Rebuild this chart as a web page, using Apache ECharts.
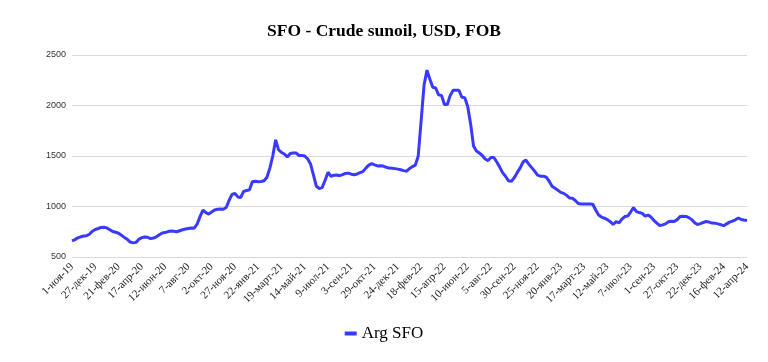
<!DOCTYPE html>
<html>
<head>
<meta charset="utf-8">
<script src="https://cdn.jsdelivr.net/npm/echarts@6/dist/echarts.min.js"></script>
<style>
html,body{margin:0;padding:0;background:#fff;}
#chart{width:768px;height:362px;}
</style>
</head>
<body>
<div id="chart"></div>
<script>
// Weekly observations starting 1 Nov 2019
const startDate = [2019, 10, 1];
const monthNames = ['янв','фев','март','апр','май','июн','июл','авг','сен','окт','ноя','дек'];
const seriesName = 'Arg SFO';
const argSFO = [
  660,672,690,700,708,711,725,755,772,782,
  793,795,788,770,752,745,735,715,694,675,
  648,640,645,675,692,698,695,682,688,700,
  720,738,742,752,757,755,750,760,770,777,
  782,787,785,825,900,965,940,925,945,965,
  972,975,972,990,1060,1120,1130,1095,1090,1150,
  1158,1165,1245,1250,1245,1248,1255,1290,1380,1500,
  1660,1560,1535,1520,1490,1525,1530,1530,1505,1505,
  1500,1470,1420,1310,1200,1178,1190,1260,1340,1298,
  1310,1312,1305,1315,1328,1330,1320,1315,1322,1335,
  1345,1380,1410,1424,1412,1402,1404,1400,1388,1380,
  1378,1375,1370,1364,1355,1350,1375,1395,1410,1500,
  1850,2200,2350,2260,2180,2173,2105,2100,2010,2010,
  2100,2150,2150,2150,2082,2078,1990,1820,1600,1550,
  1530,1505,1470,1455,1485,1485,1440,1390,1335,1300,
  1255,1249,1285,1335,1380,1440,1460,1420,1385,1350,
  1310,1300,1300,1290,1250,1200,1180,1160,1140,1130,
  1110,1085,1082,1060,1030,1025,1025,1025,1025,1022,
  965,915,895,885,870,850,822,850,838,875,
  900,905,945,990,950,940,932,905,915,895,
  862,835,812,818,828,848,853,852,870,900,
  903,902,890,870,840,822,830,842,852,845,
  836,835,828,820,810,828,845,855,868,886,
  872,866,862
];
const yTicks = [500, 1000, 1500, 2000, 2500];

const categories = [];
for (let i = 0; i < argSFO.length; i++) {
  const d = new Date(startDate[0], startDate[1], startDate[2] + 7 * i);
  categories.push(d.getDate() + '-' + monthNames[d.getMonth()] + '-' + String(d.getFullYear()).slice(2));
}

const chart = echarts.init(document.getElementById('chart'), null, {renderer: 'canvas'});
chart.setOption({
  animation: false,
  backgroundColor: '#ffffff',
  title: {
    text: 'SFO - Crude sunoil, USD, FOB',
    left: 'center',
    top: 17,
    textStyle: {fontFamily: 'Liberation Serif', fontWeight: 'bold', fontSize: 17.5, color: '#000'}
  },
  legend: {
    data: [seriesName],
    bottom: 15,
    left: 'center',
    icon: 'rect',
    itemWidth: 12,
    itemHeight: 4,
    textStyle: {fontFamily: 'Liberation Serif', fontSize: 17, color: '#000'}
  },
  grid: {left: 72, right: 21, top: 55, bottom: 105, containLabel: false},
  xAxis: {
    type: 'category',
    data: categories,
    boundaryGap: false,
    axisLine: {show: false},
    axisTick: {show: false},
    splitLine: {show: false},
    axisLabel: {
      interval: 7,
      rotate: 45,
      margin: 8,
      fontFamily: 'Liberation Serif',
      fontSize: 11,
      color: '#222'
    }
  },
  yAxis: {
    type: 'value',
    min: yTicks[0],
    max: yTicks[yTicks.length - 1],
    interval: 500,
    axisLine: {show: false},
    axisTick: {show: false},
    splitLine: {lineStyle: {color: '#d9d9d9', width: 1}},
    axisLabel: {fontFamily: 'Liberation Sans', fontSize: 9, color: '#333', margin: 6, formatter: v => String(v)}
  },
  series: [{
    name: seriesName,
    type: 'line',
    data: argSFO,
    showSymbol: false,
    smooth: false,
    lineStyle: {color: '#3a3aff', width: 3},
    itemStyle: {color: '#3a3aff'}
  }]
});
</script>
</body>
</html>
